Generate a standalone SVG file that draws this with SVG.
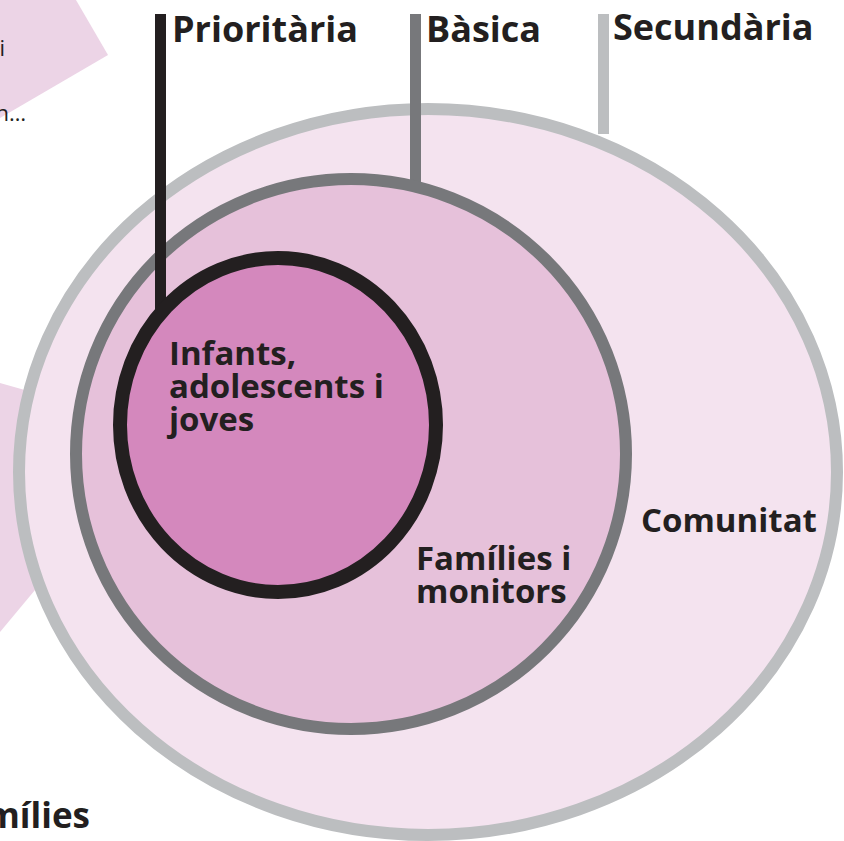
<svg xmlns="http://www.w3.org/2000/svg" width="844" height="841" viewBox="0 0 844 841">
<style>
.t{font-family:"Open Sans","Noto Sans","Liberation Sans",sans-serif;font-weight:bold;fill:#231f20}
.h{font-size:36px}
.b{font-size:33px}
.bar{stroke-width:11;fill:none}
</style>
<rect width="844" height="841" fill="#ffffff"/>
<g id="background">
<polygon points="0,0 76,0 108,55 0,118" fill="#ecd4e6"/>
<polygon points="0,383 60,400 60,560 0,632" fill="#ecd4e6"/>
<text class="t" x="5" y="56" text-anchor="end" style="font-size:22px;font-weight:normal">i</text>
<text class="t" x="26" y="121" text-anchor="end" style="font-size:22px;font-weight:normal">n…</text>
<text class="t" x="90" y="828" text-anchor="end" style="font-size:35px">Famílies</text>
</g>
<g id="connectors">
<line class="bar" x1="603.5" y1="14" x2="603.5" y2="134" stroke="#bcbec0"/>
</g>
<g id="secundaria">
<ellipse cx="428" cy="472" rx="409" ry="363" fill="#f4e3ef" stroke="#bcbec0" stroke-width="12"/>
<text class="t b" x="641" y="532">Comunitat</text>
</g>
<g id="connectors2">
<line class="bar" x1="415.5" y1="14" x2="415.5" y2="182" stroke="#77787b"/>
</g>
<g id="basica">
<ellipse cx="351" cy="454" rx="275" ry="275" fill="#e6c1da" stroke="#77787b" stroke-width="12"/>
<text class="t b" x="416" y="570">Famílies i</text>
<text class="t b" x="416" y="603">monitors</text>
</g>
<g id="connectors3">
<line class="bar" x1="160.5" y1="14" x2="160.5" y2="318" stroke="#231f20"/>
</g>
<g id="prioritaria">
<ellipse cx="278" cy="425" rx="158" ry="167" fill="#d488bd" stroke="#231f20" stroke-width="14"/>
<text class="t b" x="169" y="365">Infants,</text>
<text class="t b" x="169" y="398">adolescents i</text>
<text class="t b" x="169" y="431">joves</text>
</g>
<g id="labels">
<text class="t h" x="172" y="42">Prioritària</text>
<text class="t h" x="426" y="42">Bàsica</text>
<text class="t h" x="613" y="40">Secundària</text>
</g>
</svg>
